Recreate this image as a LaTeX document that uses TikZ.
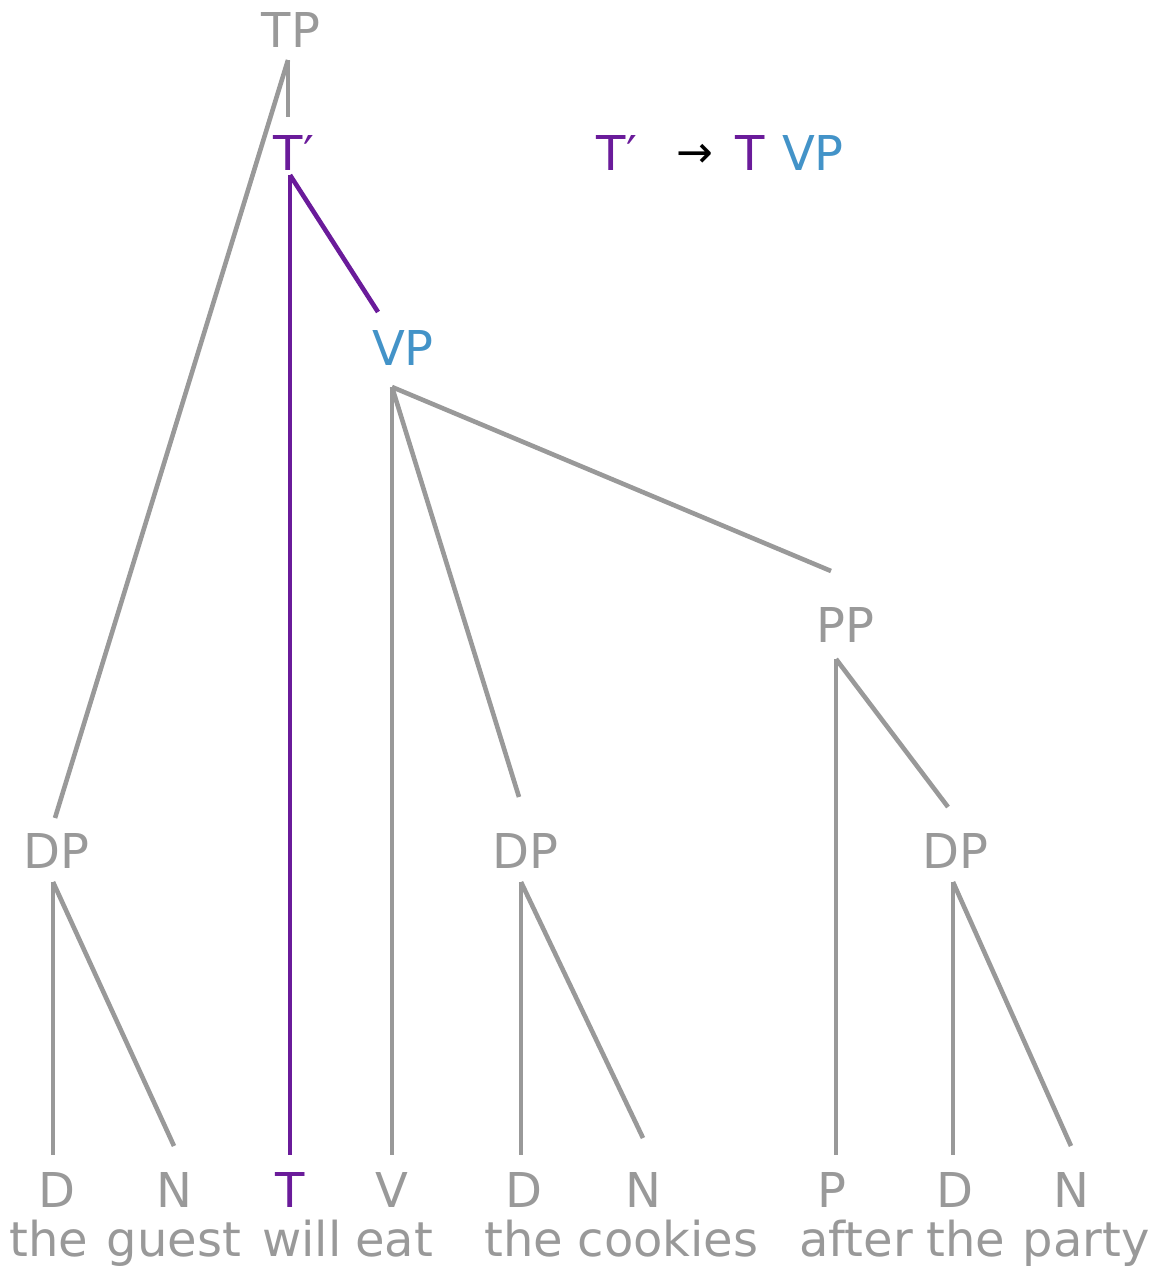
\documentclass[tikz,border=0pt]{standalone}
\usepackage{fontspec}
\setmainfont{DejaVu Sans}
\usetikzlibrary{calc}
\definecolor{tgray}{HTML}{999999}
\definecolor{tpurple}{HTML}{6A1B9A}
\definecolor{tblue}{HTML}{4393C8}
\tikzset{
  lbl/.style={inner sep=0pt, anchor=base, font=\fontsize{48}{58}\selectfont, text=tgray},
  edge/.style={draw=tgray, line width=4.6pt},
  pedge/.style={draw=tpurple, line width=4.6pt},
}
\begin{document}
\begin{tikzpicture}[x=1pt,y=-1pt]
\useasboundingbox (0,0) rectangle (1151,1270);
% phrase nodes
\node[lbl] (TP) at (291,47) {TP};
\node[lbl,text=tpurple] (Tb) at (294,170) {T′};
\node[lbl,text=tblue] (VP) at (403,365) {VP};
\node[lbl] (PP) at (845,642) {PP};
\node[lbl] (DP1) at (56,868) {DP};
\node[lbl] (DP2) at (525,868) {DP};
\node[lbl] (DP3) at (955,868) {DP};
% leaves
\node[lbl] (D1) at (57,1207) {D};
\node[lbl] (N1) at (174,1207) {N};
\node[lbl,text=tpurple] (T) at (290,1207) {T};
\node[lbl] (V) at (392,1207) {V};
\node[lbl] (D2) at (524,1207) {D};
\node[lbl] (N2) at (643,1207) {N};
\node[lbl] (P) at (832,1207) {P};
\node[lbl] (D3) at (955,1207) {D};
\node[lbl] (N3) at (1071,1207) {N};
% words
\node[lbl] (w1) at (49,1256) {the};
\node[lbl] (w2) at (174,1256) {guest};
\node[lbl] (w3) at (302,1256) {will};
\node[lbl] (w4) at (394,1256) {eat};
\node[lbl] (w5) at (524,1256) {the};
\node[lbl] (w6) at (668,1256) {cookies};
\node[lbl] (w7) at (856,1256) {after};
\node[lbl] (w8) at (966,1256) {the};
\node[lbl] (w9) at (1086,1256) {party};
% rule
\node[lbl,text=tpurple] (r1) at (617,170) {T′};
\node[lbl,text=black,font=\fontsize{44}{52}\selectfont] (r2) at (695,167) {→};
\node[lbl,text=tpurple] (r3) at (750,170) {T};
\node[lbl,text=tblue] (r4) at (813,170) {VP};
% connectors
\draw[edge] ($(TP.base)+(-3,13)$) -- ($(Tb.base)+(-6,-53)$);
\draw[edge] ($(TP.base)+(-3,13)$) -- ($(DP1.base)+(-1,-50)$);
\draw[pedge] ($(Tb.base)+(-4,5)$) -- ($(T.base)+(0,-52)$);
\draw[pedge] ($(Tb.base)+(-4,5)$) -- ($(VP.base)+(-25,-53)$);
\draw[edge] ($(VP.base)+(-11,22)$) -- ($(V.base)+(0,-52)$);
\draw[edge] ($(VP.base)+(-11,22)$) -- ($(DP2.base)+(-6,-71)$);
\draw[edge] ($(VP.base)+(-11,22)$) -- ($(PP.base)+(-14,-71)$);
\draw[edge] ($(PP.base)+(-9,17)$) -- ($(P.base)+(4,-52)$);
\draw[edge] ($(PP.base)+(-9,17)$) -- ($(DP3.base)+(-7,-61)$);
\draw[edge] ($(DP1.base)+(-3,14)$) -- ($(D1.base)+(-4,-52)$);
\draw[edge] ($(DP1.base)+(-3,14)$) -- ($(N1.base)+(0,-61)$);
\draw[edge] ($(DP2.base)+(-4,14)$) -- ($(D2.base)+(-3,-52)$);
\draw[edge] ($(DP2.base)+(-4,14)$) -- ($(N2.base)+(0,-69)$);
\draw[edge] ($(DP3.base)+(-2,14)$) -- ($(D3.base)+(-2,-52)$);
\draw[edge] ($(DP3.base)+(-2,14)$) -- ($(N3.base)+(0,-61)$);
\end{tikzpicture}
\end{document}
